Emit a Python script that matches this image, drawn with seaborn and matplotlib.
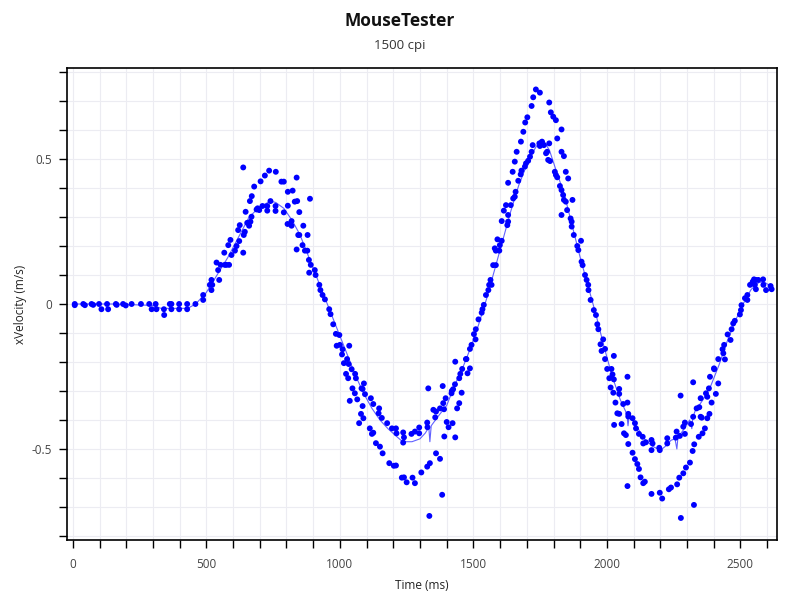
import matplotlib
matplotlib.use("Agg")
import matplotlib.pyplot as plt
import seaborn as sns
import pandas as pd
import numpy as np
from matplotlib.ticker import MultipleLocator, FuncFormatter

# ---------------- data ----------------
t_flat = [7, 7, 39, 45, 70, 76, 98, 107, 128, 132, 161, 164, 188, 198, 220,
          255, 286, 295, 310, 313, 341, 342, 363, 369, 369, 398, 398, 428, 428, 459]
v_flat = [0.0, -0.004, 0.0, -0.004, 0.0, -0.003, 0.0, -0.018, 0.0, -0.018, 0.0, -0.003, 0.0, -0.005, 0.0,
          0.0, 0.0, -0.018, 0.0, -0.018, -0.018, -0.038, 0.0, 0.0, -0.018, 0.0, -0.018, 0.0, -0.018, 0.0]

t_rise1 = [488, 488, 513, 519, 519, 522, 548, 544, 553, 538, 569, 575, 585, 567, 582,
           590, 594, 607, 613, 619, 625, 623, 638, 640, 644, 647, 638, 653, 660, 665,
           669, 663, 670, 679, 688, 698, 692, 703, 710, 719, 728, 728, 735, 740]
v_rise1 = [0.031, 0.014, 0.066, 0.048, 0.083, 0.066, 0.083, 0.117, 0.135, 0.143, 0.135, 0.135, 0.135, 0.177, 0.203,
           0.221, 0.169, 0.184, 0.200, 0.255, 0.272, 0.217, 0.177, 0.238, 0.249, 0.318, 0.471, 0.280, 0.270, 0.284,
           0.301, 0.355, 0.372, 0.405, 0.326, 0.324, 0.330, 0.423, 0.338, 0.443, 0.338, 0.322, 0.460, 0.355]

t_fall1 = [759, 759, 760, 781, 790, 790, 805, 823, 805, 804, 819, 819, 831, 840, 838,
           848, 863, 844, 848, 838, 860, 869, 878, 879, 888, 884, 891, 885, 906, 909,
           923, 927, 935, 944]
v_fall1 = [0.338, 0.321, 0.456, 0.422, 0.422, 0.316, 0.387, 0.391, 0.339, 0.276, 0.270, 0.286, 0.353, 0.355, 0.436,
           0.317, 0.270, 0.238, 0.238, 0.188, 0.203, 0.184, 0.184, 0.238, 0.363, 0.152, 0.135, 0.108, 0.117, 0.100,
           0.066, 0.048, 0.031, 0.016]

t_trough1 = [960, 965, 975, 985, 998, 988, 1000, 1035, 1010, 1008, 1015, 1027, 1033, 1044, 1023,
             1031, 1057, 1060, 1047, 1056, 1065, 1037, 1081, 1090, 1085, 1094, 1085, 1079, 1088, 1072,
             1116, 1125, 1147, 1145, 1157, 1112, 1125, 1120, 1135, 1150, 1160, 1177, 1195, 1210, 1212,
             1185, 1202, 1210, 1237, 1240, 1237, 1232, 1240, 1250, 1268, 1281, 1297, 1297, 1272, 1281,
             1305, 1327, 1328, 1331, 1327, 1337, 1335, 1350, 1360, 1357, 1360, 1375, 1385, 1390, 1387,
             1375, 1383, 1391, 1396, 1400, 1407, 1418, 1419, 1424, 1422, 1432, 1432, 1431, 1439, 1447,
             1456, 1447, 1451, 1458, 1472, 1474, 1478, 1487, 1487, 1493, 1502, 1509, 1508, 1519, 1531,
             1534, 1539]
v_trough1 = [-0.018, -0.035, -0.070, -0.103, -0.107, -0.144, -0.141, -0.144, -0.156, -0.174, -0.204, -0.190, -0.207, -0.225, -0.241,
             -0.256, -0.241, -0.256, -0.291, -0.308, -0.329, -0.334, -0.291, -0.274, -0.293, -0.311, -0.352, -0.379, -0.394, -0.411,
             -0.325, -0.345, -0.360, -0.377, -0.393, -0.429, -0.444, -0.448, -0.480, -0.492, -0.515, -0.411, -0.429, -0.429, -0.446,
             -0.549, -0.558, -0.557, -0.443, -0.460, -0.478, -0.599, -0.598, -0.615, -0.448, -0.440, -0.426, -0.446, -0.599, -0.618,
             -0.581, -0.409, -0.425, -0.291, -0.561, -0.549, -0.731, -0.365, -0.371, -0.391, -0.515, -0.360, -0.283, -0.363, -0.342,
             -0.534, -0.658, -0.457, -0.325, -0.407, -0.425, -0.308, -0.300, -0.294, -0.411, -0.460, -0.199, -0.277, -0.360, -0.342,
             -0.306, -0.256, -0.241, -0.224, -0.190, -0.190, -0.239, -0.222, -0.155, -0.141, -0.104, -0.087, -0.122, -0.053, -0.030,
             -0.018, -0.003]

t_rise2 = [1547, 1556, 1559, 1564, 1568, 1574, 1584, 1580, 1584, 1597, 1599, 1606, 1590, 1606, 1614,
           1622, 1627, 1630, 1630, 1640, 1630, 1647, 1649, 1655, 1658, 1655, 1662, 1668, 1677, 1680,
           1678, 1687, 1693, 1697, 1694, 1702, 1705, 1712, 1718, 1718, 1724, 1734, 1749, 1722, 1747,
           1749, 1757, 1764, 1772, 1776, 1784, 1780, 1787, 1784, 1790, 1799, 1809, 1805, 1809, 1814,
           1814, 1830, 1824, 1830, 1836, 1839, 1830, 1839, 1830, 1846, 1855, 1846, 1851, 1864, 1868,
           1868, 1871, 1876, 1889, 1893, 1903, 1905, 1909, 1918, 1924, 1930, 1931, 1939, 1951, 1959]
v_rise2 = [0.031, 0.048, 0.066, 0.083, 0.066, 0.134, 0.134, 0.192, 0.184, 0.184, 0.203, 0.218, 0.223, 0.286, 0.322,
           0.341, 0.272, 0.307, 0.284, 0.341, 0.418, 0.456, 0.364, 0.370, 0.387, 0.491, 0.525, 0.425, 0.447, 0.460,
           0.560, 0.594, 0.474, 0.485, 0.626, 0.644, 0.494, 0.508, 0.525, 0.683, 0.713, 0.740, 0.729, 0.548, 0.554,
           0.545, 0.560, 0.548, 0.520, 0.525, 0.554, 0.497, 0.493, 0.695, 0.661, 0.646, 0.634, 0.456, 0.445, 0.437,
           0.571, 0.602, 0.407, 0.393, 0.376, 0.359, 0.525, 0.510, 0.307, 0.456, 0.433, 0.353, 0.324, 0.295, 0.284,
           0.267, 0.359, 0.238, 0.200, 0.186, 0.218, 0.146, 0.134, 0.100, 0.083, 0.066, 0.048, 0.014, -0.021, -0.038]

t_trough2 = [1964, 1968, 1976, 1986, 1980, 1993, 1993, 2026, 2001, 2017, 2021, 2026, 2009, 2014, 2024,
             2046, 2046, 2077, 2032, 2061, 2077, 2039, 2046, 2055, 2027, 2080, 2080, 2096, 2064, 2071,
             2080, 2105, 2109, 2120, 2134, 2136, 2096, 2105, 2114, 2120, 2126, 2136, 2142, 2077, 2146,
             2167, 2171, 2167, 2196, 2198, 2167, 2198, 2207, 2226, 2226, 2232, 2240, 2258, 2261, 2263,
             2273, 2276, 2277, 2271, 2286, 2296, 2311, 2286, 2292, 2292, 2321, 2327, 2326, 2323, 2315,
             2323, 2336, 2346, 2351, 2344, 2358, 2367, 2376, 2384, 2351, 2355, 2371, 2376, 2382, 2386,
             2392, 2408, 2417, 2401, 2402, 2417, 2433, 2439, 2442, 2436, 2452, 2463, 2467, 2473, 2479,
             2498, 2502, 2504, 2517, 2526, 2526, 2536, 2546, 2554, 2558, 2558, 2567, 2586, 2596, 2613,
             2617, 2585, 2551]
v_trough2 = [-0.070, -0.087, -0.139, -0.122, -0.162, -0.155, -0.190, -0.179, -0.224, -0.224, -0.243, -0.260, -0.256, -0.288, -0.306,
             -0.293, -0.310, -0.251, -0.340, -0.345, -0.340, -0.377, -0.379, -0.414, -0.417, -0.379, -0.388, -0.394, -0.446, -0.452,
             -0.483, -0.411, -0.429, -0.448, -0.458, -0.481, -0.513, -0.535, -0.552, -0.569, -0.598, -0.618, -0.613, -0.628, -0.477,
             -0.469, -0.481, -0.504, -0.496, -0.504, -0.655, -0.651, -0.671, -0.463, -0.481, -0.639, -0.633, -0.461, -0.440, -0.622,
             -0.455, -0.316, -0.738, -0.599, -0.584, -0.564, -0.547, -0.423, -0.409, -0.448, -0.507, -0.484, -0.693, -0.389, -0.414,
             -0.270, -0.360, -0.356, -0.325, -0.458, -0.446, -0.429, -0.394, -0.379, -0.389, -0.392, -0.308, -0.320, -0.291, -0.251,
             -0.340, -0.310, -0.274, -0.222, -0.225, -0.190, -0.156, -0.141, -0.191, -0.170, -0.105, -0.124, -0.087, -0.067, -0.058,
             -0.036, -0.021, -0.004, 0.020, 0.031, 0.014, 0.066, 0.077, 0.066, 0.051, 0.083, 0.083, 0.066, 0.048, 0.062,
             0.051, 0.085, 0.085]

# smoothed trace
t_line = [0, 150, 300, 330, 430, 460, 500, 540, 580, 620, 660, 700, 740, 760, 790, 820, 850, 880, 910, 940,
          970, 1000, 1030, 1060, 1090, 1120, 1150, 1180, 1210, 1235, 1270, 1300, 1320, 1333, 1337, 1342, 1370, 1400, 1430, 1460,
          1490, 1520, 1550, 1580, 1610, 1640, 1670, 1700, 1730, 1750, 1765, 1785, 1810, 1840, 1870, 1900, 1930, 1960, 1990, 2020,
          2050, 2075, 2079, 2084, 2110, 2140, 2170, 2200, 2220, 2240, 2255, 2262, 2266, 2270, 2290, 2310, 2318, 2322, 2330, 2360,
          2390, 2420, 2450, 2480, 2510, 2540, 2570, 2590, 2617]
v_line = [0.0, 0.0, -0.005, -0.015, -0.015, 0.0, 0.04, 0.10, 0.16, 0.23, 0.30, 0.335, 0.355, 0.35, 0.33, 0.29, 0.24, 0.17, 0.10, 0.03,
          -0.04, -0.11, -0.18, -0.25, -0.31, -0.36, -0.40, -0.43, -0.455, -0.475, -0.475, -0.465, -0.445, -0.425, -0.475, -0.42, -0.385, -0.35, -0.28, -0.22,
          -0.15, -0.07, 0.02, 0.12, 0.22, 0.32, 0.41, 0.48, 0.535, 0.565, 0.56, 0.53, 0.46, 0.38, 0.27, 0.16, 0.06, -0.04, -0.15, -0.25,
          -0.33, -0.38, -0.42, -0.38, -0.42, -0.465, -0.49, -0.505, -0.49, -0.47, -0.465, -0.50, -0.46, -0.455, -0.43, -0.40, -0.43, -0.39, -0.37, -0.33,
          -0.28, -0.21, -0.13, -0.06, 0.0, 0.05, 0.075, 0.075, 0.06]

times = t_flat + t_rise1 + t_fall1 + t_trough1 + t_rise2 + t_trough2
vels = v_flat + v_rise1 + v_fall1 + v_trough1 + v_rise2 + v_trough2
pts = pd.DataFrame({"Time (ms)": times, "xVelocity (m/s)": vels})
line = pd.DataFrame({"Time (ms)": t_line, "xVelocity (m/s)": v_line})

# ---------------- plot ----------------
sns.set_theme(style="white")
plt.rcParams["font.family"] = ["Open Sans", "DejaVu Sans"]

fig = plt.figure(figsize=(8, 6), dpi=100)
ax = fig.add_axes([67 / 800, 1 - 540 / 600, 710 / 800, 472 / 600])

sns.lineplot(data=line, x="Time (ms)", y="xVelocity (m/s)", ax=ax, color="#3a3aff",
             lw=0.8, alpha=0.8, sort=False, estimator=None, zorder=3)
sns.scatterplot(data=pts, x="Time (ms)", y="xVelocity (m/s)", ax=ax, color="#0000ff",
                s=18, edgecolor="none", linewidth=0, zorder=4)

ax.set_xlim(-22, 2637)
ax.set_ylim(-0.814, 0.814)
ax.xaxis.set_major_locator(MultipleLocator(500))
ax.xaxis.set_minor_locator(MultipleLocator(100))
ax.yaxis.set_major_locator(MultipleLocator(0.5))
ax.yaxis.set_minor_locator(MultipleLocator(0.1))
ax.yaxis.set_major_formatter(FuncFormatter(lambda v, p: "0" if abs(v) < 1e-9 else f"{v:g}"))

ax.grid(True, which="both", color="#ececf2", lw=0.8, zorder=0)
ax.set_axisbelow(True)
for s in ax.spines.values():
    s.set_color("black")
    s.set_linewidth(1.2)
ax.tick_params(axis="both", which="both", direction="out", length=6, width=1,
               color="black", labelsize=8.5, labelcolor="#444444", pad=7,
               bottom=True, left=True)
ax.tick_params(axis="y", which="both", pad=5)

ax.set_xlabel("Time (ms)", fontsize=8.5, color="#222222", labelpad=6)
ax.set_ylabel("xVelocity (m/s)", fontsize=8.5, color="#222222", labelpad=3)

fig.text(0.5, 1 - 21 / 600, "MouseTester", ha="center", va="center",
         fontsize=12.5, fontweight="bold", color="#111111")
fig.text(0.5, 1 - 45 / 600, "1500 cpi", ha="center", va="center",
         fontsize=9.5, color="#333333")

fig.savefig("out.png", dpi=100)
